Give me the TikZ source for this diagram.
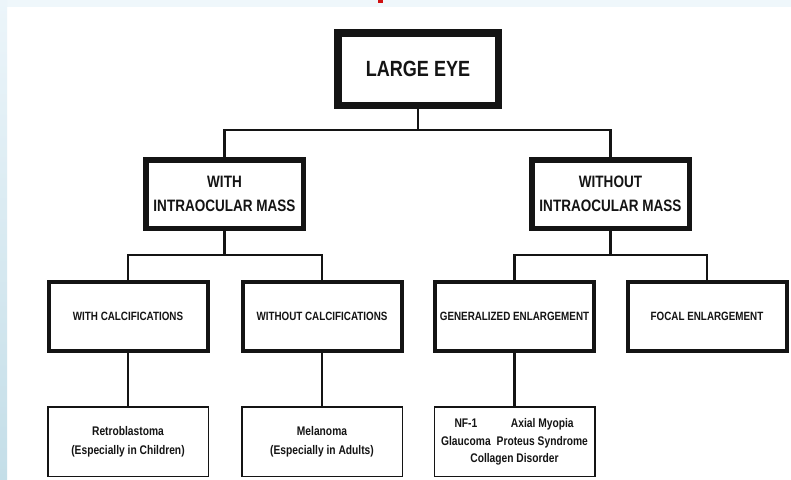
\documentclass[tikz,border=0pt]{standalone}
\usepackage{fontspec}
\newfontfamily\chartfont[FakeStretch=0.82]{Liberation Sans}
\definecolor{bandblue}{RGB}{239,247,251}
\definecolor{striptop}{RGB}{236,245,250}
\definecolor{stripbottom}{RGB}{196,222,232}
\definecolor{markred}{RGB}{208,16,16}
\definecolor{inkblack}{RGB}{20,20,20}
\tikzset{
  boxone/.style = {draw=inkblack, text=inkblack, line width=7.5pt, minimum width=160.5pt, minimum height=72.5pt, inner sep=0pt, font=\chartfont\bfseries\fontsize{22}{26}\selectfont},
  boxtwo/.style = {draw=inkblack, text=inkblack, line width=5.5pt, minimum width=157.5pt, minimum height=68.5pt, inner sep=0pt, align=center, font=\chartfont\bfseries\fontsize{16.5}{24}\selectfont},
  boxthree/.style = {draw=inkblack, text=inkblack, line width=4pt, minimum width=159pt, minimum height=69pt, inner sep=0pt, font=\chartfont\bfseries\fontsize{12}{14}\selectfont},
  leafbox/.style = {draw=inkblack, text=inkblack, line width=1.5pt, minimum width=160.5pt, minimum height=69.5pt, inner sep=0pt, align=center, font=\chartfont\bfseries\fontsize{12.5}{19}\selectfont},
  link/.style = {draw=inkblack, line width=2.6pt}
}
\begin{document}
\begin{tikzpicture}[x=1pt, y=-1pt]

\useasboundingbox (0,0) rectangle (791,479);
\fill [white] (0,0) rectangle (791,479);
\fill [bandblue] (0,0) rectangle (791,7);
\shade [top color=striptop, bottom color=stripbottom] (0,0) rectangle (7,479);
\fill [markred] (378,0) rectangle (383,3);

\node [boxone] (eye) at (418, 69) {LARGE EYE};
\node [boxtwo] (with) at (224.5, 194) {WITH\\INTRAOCULAR MASS};
\node [boxtwo] (without) at (610.5, 194) {WITHOUT\\INTRAOCULAR MASS};
\node [boxthree] (calc) at (128, 316.5) {WITH CALCIFICATIONS};
\node [boxthree] (nocalc) at (322, 316.5) {WITHOUT CALCIFICATIONS};
\node [boxthree] (general) at (514.5, 316.5) {GENERALIZED ENLARGEMENT};
\node [boxthree] (focal) at (707, 316.5) {FOCAL ENLARGEMENT};
\node [leafbox] (retino) at (128, 441.5) {Retroblastoma\\(Especially in Children)};
\node [leafbox] (melan) at (322, 441.5) {Melanoma\\(Especially in Adults)};
\node [leafbox] (causes) at (514.5, 441.5) {\setlength{\tabcolsep}{3pt}\renewcommand{\arraystretch}{0.92}%
  \begin{tabular}{cc}NF-1 & Axial Myopia\\ Glaucoma & Proteus Syndrome\\ \multicolumn{2}{c}{Collagen Disorder}\end{tabular}};

\coordinate (split1) at (418, 130);
\coordinate (split2) at (224.5, 255);
\coordinate (split3) at (610.5, 255);
\draw [link] (eye.south) -- (split1);
\draw [link] (with.north) |- (split1) -| (without.north);
\draw [link] (with.south) -- (split2);
\draw [link] (calc.north) |- (split2) -| (nocalc.north);
\draw [link] (without.south) -- (split3);
\draw [link] (general.north) |- (split3) -| (focal.north);
\draw [link] (calc) -- (retino);
\draw [link] (nocalc) -- (melan);
\draw [link] (general) -- (causes);
\end{tikzpicture}
\end{document}
